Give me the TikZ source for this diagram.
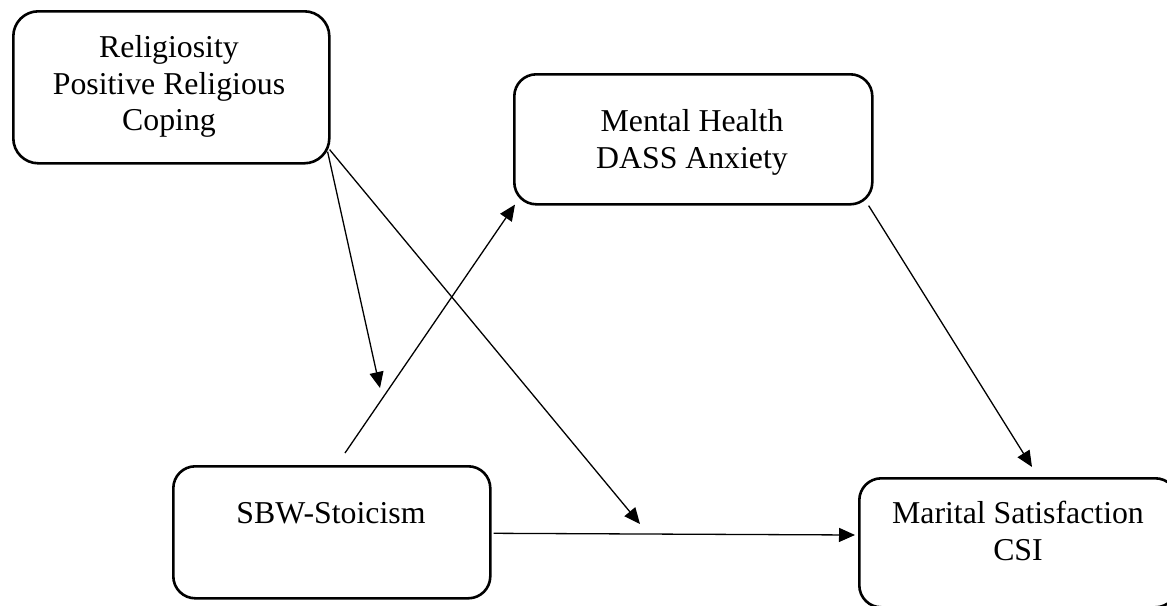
\documentclass[tikz,border=0pt]{standalone}
\usepackage{fontspec}
\setmainfont{Liberation Serif}
\usetikzlibrary{arrows.meta}
\begin{document}
\begin{tikzpicture}[x=1pt,y=-1pt,
  box/.style={draw, line width=2.6pt, rounded corners=23pt, anchor=north west, inner sep=0pt},
  txt/.style={align=center, inner sep=0pt, anchor=base, font=\fontsize{31.8}{36.5}\selectfont},
  link/.style={line width=1.3pt, -{Triangle[length=16pt,width=14pt]}}]
\useasboundingbox (0,0) rectangle (1167,605);

% boxes
\node[box, minimum width=316pt, minimum height=152pt, rounded corners=25pt] (rel) at (12,10) {};
\node[box, minimum width=358pt, minimum height=130pt, rounded corners=22pt] (mh) at (513,73) {};
\node[box, minimum width=317pt, minimum height=132pt, rounded corners=22pt] (sbw) at (172,465) {};
\node[box, minimum width=318pt, minimum height=129pt, rounded corners=22pt] (ms) at (858,477) {};

% labels (anchored on the baseline of the last line)
\node[txt] (reltext) at (169,130.5) {Religiosity\\Positive Religious\\Coping};
\node[txt] (mhtext) at (692,168) {Mental Health\\DASS Anxiety};
\node[txt] (sbwtext) at (331,523.3) {SBW-Stoicism};
\node[txt] (mstext) at (1018,560) {Marital Satisfaction\\CSI};

% free ends of the paths
\coordinate (toSbw) at (380,388);
\coordinate (toPath) at (640,524);
\coordinate (fromSbw) at (345,453);
\coordinate (toMs) at (1032,467);
\coordinate (atMs) at (855,535);

% paths
\draw[link] ([shift={(-3,-13)}]rel.south east) -- (toSbw);
\draw[link] ([shift={(-1,-15)}]rel.south east) -- (toPath);
\draw[link] (fromSbw) -- ([shift={(2,-1)}]mh.south west);
\draw[link] ([shift={(-5,0)}]mh.south east) -- (toMs);
\draw[link] ([shift={(2,1)}]sbw.east) -- (atMs);
\end{tikzpicture}
\end{document}
